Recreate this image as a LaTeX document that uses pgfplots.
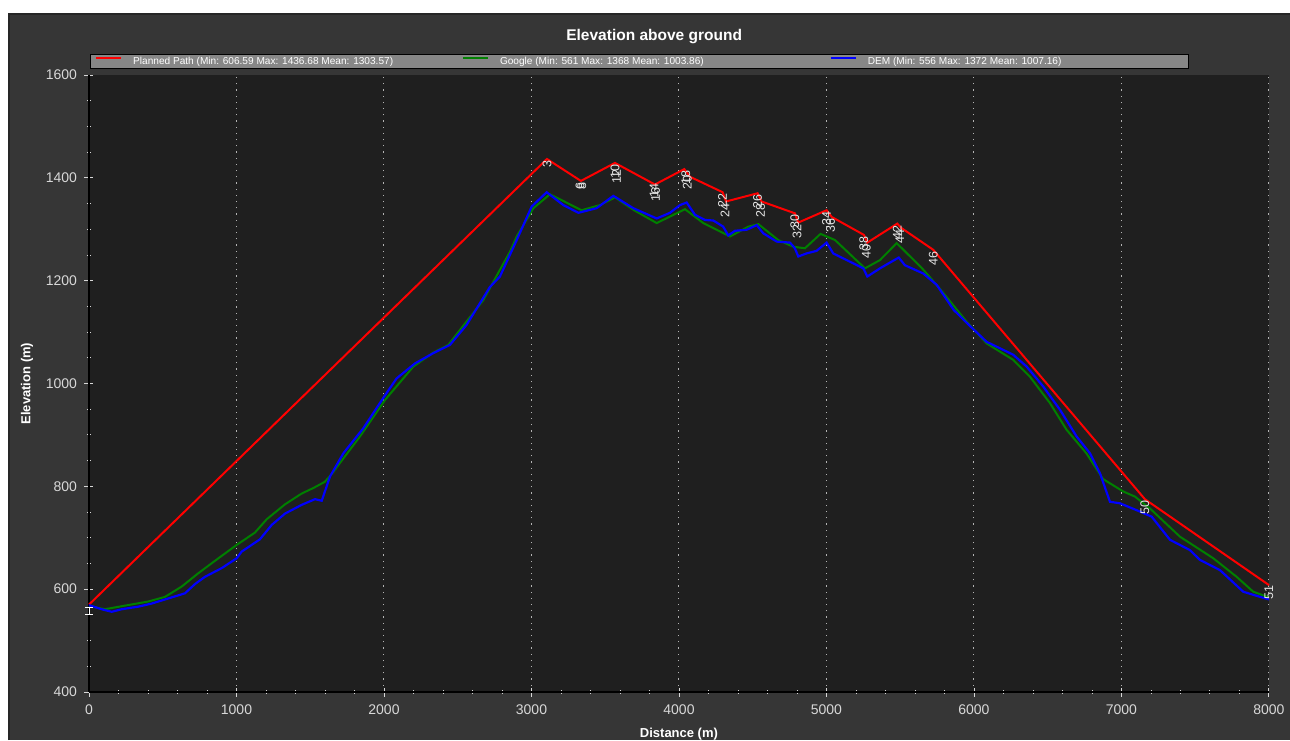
\documentclass[border=0pt]{standalone}
\usepackage{fontspec}
\setmainfont{Liberation Sans}
\usepackage{pgfplots}
\pgfplotsset{compat=1.18}
\definecolor{panel}{HTML}{363636}
\definecolor{plotbg}{HTML}{1F1F1F}
\definecolor{leggray}{HTML}{878787}
\definecolor{gridc}{HTML}{B4B4B4}
\definecolor{tickc}{HTML}{D8D8D8}
\definecolor{ggreen}{HTML}{008000}
\pgfdeclareplotmark{ibeam}{%
 \pgfpathmoveto{\pgfpoint{-4pt}{3.5pt}}\pgfpathlineto{\pgfpoint{4pt}{3.5pt}}%
 \pgfpathmoveto{\pgfpoint{-4pt}{-3.5pt}}\pgfpathlineto{\pgfpoint{4pt}{-3.5pt}}%
 \pgfpathmoveto{\pgfpoint{0pt}{-3.5pt}}\pgfpathlineto{\pgfpoint{0pt}{3.5pt}}%
 \pgfusepathqstroke}

\pgfplotstableread{
x y
0 570
3105 1436.7
3335 1394
3566 1429
3837 1387
4036 1417
4075 1402
4296 1372
4319 1354
4533 1370
4560 1354
4786 1331
4809 1313
5001 1337
5035 1324
5254 1289
5277 1274
5480 1311
5505 1303
5724 1260
7159 775
8000 608
}\planned

\pgfplotstableread{
x y
0 567
108 561
244 568
402 576
515 585
628 605
741 631
877 660
1001 686
1125 710
1205 736
1329 765
1442 786
1523 797
1600 809
1657 828
1700 845
1837 897
2007 968
2199 1033
2334 1060
2436 1075
2673 1162
2786 1221
2854 1256
2900 1286
3013 1341
3125 1368
3340 1337
3464 1347
3566 1362
3690 1338
3849 1312
4041 1339
4165 1312
4346 1286
4470 1305
4538 1310
4673 1279
4775 1266
4854 1263
4960 1291
5058 1279
5261 1224
5363 1240
5476 1273
5645 1225
5758 1188
5951 1120
6086 1078
6266 1046
6380 1013
6515 962
6628 910
6763 864
6876 814
7012 790
7092 780
7193 757
7397 702
7623 660
7781 624
7894 595
8000 584
}\google

\pgfplotstableread{
x y
0 569
86 561
154 556
222 561
334 566
425 572
538 582
651 592
719 610
786 624
900 641
1001 660
1035 673
1159 697
1239 725
1329 747
1442 764
1532 775
1578 772
1634 819
1724 864
1860 913
2007 977
2086 1010
2210 1039
2334 1059
2447 1075
2560 1114
2719 1188
2786 1208
2900 1279
3001 1344
3103 1372
3216 1347
3318 1332
3442 1341
3555 1365
3690 1341
3849 1321
3939 1332
4007 1347
4052 1352
4109 1328
4177 1318
4233 1317
4300 1305
4334 1288
4380 1297
4459 1299
4527 1308
4572 1292
4663 1276
4753 1274
4786 1263
4809 1247
4865 1253
4933 1258
5001 1274
5046 1253
5137 1240
5250 1224
5277 1208
5363 1224
5490 1245
5532 1230
5656 1214
5747 1192
5863 1143
5976 1111
6086 1081
6266 1056
6357 1033
6470 994
6583 949
6696 897
6787 864
6855 825
6922 770
6990 767
7125 751
7205 741
7329 696
7464 676
7532 657
7668 637
7826 595
7894 589
8000 580
}\dem

\begin{document}
\begin{tikzpicture}
\useasboundingbox (-89pt,-48pt) rectangle (1201pt,692pt);
\fill[white] (-89pt,-48pt) rectangle (1201pt,692pt);
\fill[panel] (-81pt,-48pt) rectangle (1201pt,679pt);
\draw[black!85, line width=2pt] (-80pt,-48pt) -- (-80pt,678pt) -- (1201pt,678pt);
\begin{axis}[
  at={(0pt,0pt)}, anchor=south west,
  scale only axis, width=1180pt, height=617pt,
  xmin=0, xmax=8000, ymin=400, ymax=1600,
  clip=false,
  axis background/.style={fill=plotbg},
  axis lines=left, axis line style={-, black, line width=1.2pt},
  xtick={0,1000,...,8000}, ytick={400,600,...,1600},
  minor x tick num=4, minor y tick num=3,
  tick align=center,
  major tick length=9pt, minor tick length=4pt,
  tick style={tickc, line width=0.9pt},
  xmajorgrids,
  major x grid style={gridc, dash pattern=on 1.3pt off 4.9pt, line width=1pt},
  scaled ticks=false,
  /pgf/number format/1000 sep={},
  /pgf/number format/assume math mode=true,
  ticklabel style={font=\fontsize{14}{16}\selectfont, text=tickc},
  xticklabel style={yshift=-5pt},
  yticklabel style={xshift=-4pt},
  title={Elevation above ground},
  title style={at={(0.479,1)}, anchor=center, yshift=32pt, font=\bfseries\fontsize{15.5}{18}\selectfont, text=white},
  xlabel={Distance (m)},
  xlabel style={at={(0.5,0)}, anchor=north, yshift=-33pt, font=\bfseries\fontsize{13}{15}\selectfont, text=white},
  ylabel={Elevation (m)},
  ylabel style={at={(-0.0525,0.5)}, anchor=center, rotate=0, font=\bfseries\fontsize{13}{15}\selectfont, text=white},
  legend columns=3,
  legend image code/.code={\draw[#1, line width=1.8pt] (0pt,3.6pt) -- (25pt,3.6pt);},
  legend style={at={(0.00085,1)}, anchor=south west, yshift=6pt,
    fill=leggray, draw=black, line width=0.8pt, text=white,
    font=\fontsize{10.1}{12}\selectfont,
    inner xsep=5pt, inner ysep=2pt,
    nodes={inner sep=0pt, text height=8pt, text depth=2pt},
    cells={anchor=west},
    /tikz/every odd column/.append style={column sep=11pt}},
]
\addplot[red, line width=2pt] table {\planned};
\addlegendentry{\makebox[329pt][l]{Planned Path (Min: 606.59 Max: 1436.68 Mean: 1303.57)}}
\addplot[ggreen, line width=2pt] table {\google};
\addlegendentry{\makebox[330pt][l]{Google (Min: 561 Max: 1368 Mean: 1003.86)}}
\addplot[blue, line width=2.2pt] table {\dem};
\addlegendentry{\makebox[316pt][l]{DEM (Min: 556 Max: 1372 Mean: 1007.16)}}
\addplot[draw=none, mark=none, forget plot, nodes near coords, point meta=explicit symbolic,
  nodes near coords style={rotate=90, anchor=east, inner sep=1.5pt, text=white!90!black, font=\fontsize{12.5}{14}\selectfont}]
  coordinates {
  (3105,1436.7) [3]
  (3330,1394) [6]
  (3342,1394) [8]
  (3566,1429) [10]
  (3576,1420) [12]
  (3832,1392) [14]
  (3842,1384) [16]
  (4046,1417) [18]
  (4056,1408) [20]
  (4296,1372) [22]
  (4312,1354) [24]
  (4533,1370) [26]
  (4553,1354) [28]
  (4786,1331) [30]
  (4800,1313) [32]
  (5001,1337) [34]
  (5028,1324) [36]
  (5254,1289) [38]
  (5270,1274) [40]
  (5480,1311) [42]
  (5498,1303) [44]
  (5724,1260) [46]
  (7159,775) [50]
  (8000,610) [51]
  };
\addplot[white, only marks, mark=ibeam, mark options={line width=0.9pt}, forget plot] coordinates {(0,557)};
\end{axis}
\end{tikzpicture}
\end{document}
